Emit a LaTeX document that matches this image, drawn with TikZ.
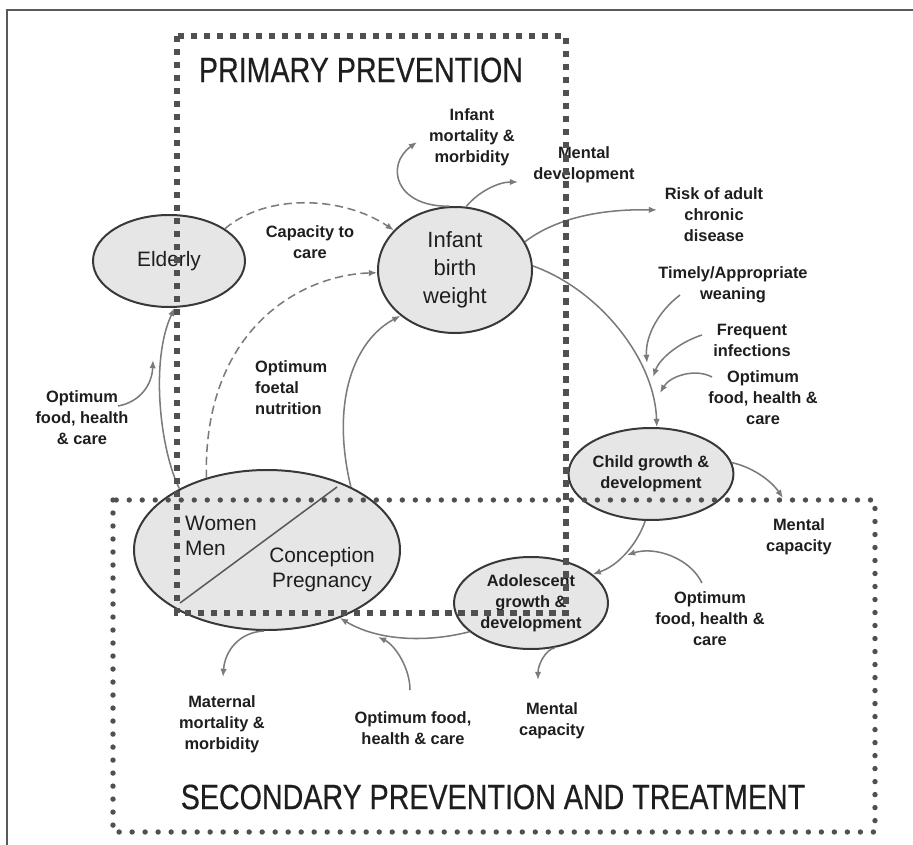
\documentclass[tikz,border=0pt]{standalone}
\usepackage{fontspec}
\setmainfont{Liberation Sans}
\newfontfamily\headfont[FakeStretch=0.815,FakeBold=0.4]{Liberation Sans}
\usetikzlibrary{arrows.meta,shapes.geometric}
\usetikzlibrary{calc}
\definecolor{boxgray}{HTML}{505050}
\definecolor{arrowgray}{HTML}{7A7A7A}
\definecolor{ovalfill}{HTML}{E6E6E6}
\definecolor{inkgray}{HTML}{1E1E1E}
\newcommand{\pxu}{0.03cm}
\tikzstyle{oval}=[ellipse,fill=ovalfill,draw=black!78,line width=1.7pt,inner sep=0pt,text=inkgray,align=center]
\tikzstyle{ovaltext}=[font=\fontsize{17.8}{21.3}\selectfont,text=inkgray,align=center,inner sep=0pt]
\tikzstyle{remark}=[font=\bfseries\fontsize{14}{18}\selectfont,text=inkgray,align=center,inner sep=0pt]
\tikzstyle{heading}=[font=\headfont\fontsize{30}{36}\selectfont,text=inkgray,inner sep=0pt]
\tikzstyle{link}=[draw=arrowgray,line width=1.3pt,-{Latex[length=7pt,width=5.5pt]}]
\tikzstyle{dashlink}=[link,dash pattern=on 7pt off 4pt]
\tikzstyle{primbox}=[draw=boxgray,line width=5.3pt,dash pattern=on 5.3pt off 5.8pt]
\tikzstyle{secbox}=[draw=boxgray,line width=4.6pt,line cap=round,dash pattern=on 0pt off 11.1pt]

\begin{document}
\begin{tikzpicture}[x=\pxu,y=-\pxu]
    % page size and frame
    \useasboundingbox (0,0) rectangle (913,845);
    \draw[draw=black!65,line width=2pt] (7,845) -- (7,10) -- (913,10);
    % First we draw the ovals
    \node[oval,font=\fontsize{17.8}{21.3}\selectfont,minimum width=152*\pxu,minimum height=92*\pxu] (elderly) at (169,261) {Elderly};
    \node[oval,font=\fontsize{18.8}{24}\selectfont,minimum width=154*\pxu,minimum height=126*\pxu] (infant) at (455,270) {Infant\\birth\\weight};
    \node[oval,minimum width=266*\pxu,minimum height=160*\pxu] (women) at (267,550) {};
    \node[oval,remark,minimum width=152*\pxu,minimum height=92*\pxu] (child) at (651,474) {Child growth \&\\development};
    \node[oval,remark,minimum width=154*\pxu,minimum height=92*\pxu] (adolescent) at (531,603) {Adolescent\\growth \&\\development};
    \draw[draw=black!65,line width=1.3pt] ($(women.center)+(-87,53)$) -- ($(women.center)+(70,-63)$);
    \node[ovaltext,align=left,anchor=west] (womenmen) at (185,536) {Women\\Men};
    \node[ovaltext] (conception) at (322,570) {Conception\\Pregnancy};
    % then the labels
    \foreach \pos/\name/\txt in {{(310,242)/capacity/{Capacity to\\care}},
                                 {(82,418)/optleft/{Optimum\\food, health\\\& care}},
                                 {(472,137)/infmort/{Infant\\mortality \&\\morbidity}},
                                 {(584,165)/mentdev/{Mental\\development}},
                                 {(714,215)/risk/{Risk of adult\\chronic\\disease}},
                                 {(752,340)/frequent/{Frequent\\infections}},
                                 {(763,398)/optright/{Optimum\\food, health \&\\care}},
                                 {(799,537)/mentcap1/{Mental\\capacity}},
                                 {(710,619)/optlow/{Optimum\\food, health \&\\care}},
                                 {(552,721)/mentcap2/{Mental\\capacity}},
                                 {(222,724)/maternal/{Maternal\\mortality \&\\morbidity}},
                                 {(413,728)/optbottom/{Optimum food,\\health \& care}}}
        \node[remark] (\name) at \pos {\txt};
    \node[remark] (timely) at (733,285) {Timely/Appropriate\\weaning};
    \node[remark,align=left,anchor=west] (foetal) at (255,388) {Optimum\\foetal\\nutrition};
    \node[heading] (primhead) at (361,70) {PRIMARY PREVENTION};
    \node[heading] (sechead) at (493,797) {SECONDARY PREVENTION AND TREATMENT};
    % free ends of the arrows
    \coordinate (optleft-out) at (118,406);
    \coordinate (elderly-in) at (153,360);
    \coordinate (infmort-in) at (417,142);
    \coordinate (mentdev-in) at (518,182);
    \coordinate (risk-in) at (657,210);
    \coordinate (timely-out) at (680,295);
    \coordinate (timely-in) at (647,363);
    \coordinate (frequent-out) at (702,335);
    \coordinate (frequent-in) at (653,377);
    \coordinate (optright-out) at (712,377);
    \coordinate (optright-in) at (660,393);
    \coordinate (mentcap1-in) at (783,498);
    \coordinate (optlow-out) at (702,583);
    \coordinate (optlow-in) at (627,555);
    \coordinate (mentcap2-in) at (538,680);
    \coordinate (maternal-in) at (223,677);
    \coordinate (optbottom-out) at (410,690);
    \coordinate (optbottom-in) at (378,637);
    % Connect the ovals
    \draw[dashlink] (elderly.30) .. controls (267,193) and (343,196) .. (infant.147);
    \draw[dashlink] (women.130) .. controls (203,330) and (300,275) .. (infant.182);
    \draw[link] (women.37) .. controls (330,400) and (355,340) .. (infant.220);
    \draw[link] (women.145) .. controls (160,450) and (150,360) .. (elderly.-83);
    \draw[link] (optleft-out) .. controls (140,402) and (152,385) .. (elderly-in);
    \draw[link] (infant.95) .. controls (395,207) and (385,165) .. (infmort-in);
    \draw[link] (infant.80) .. controls (478,192) and (498,182) .. (mentdev-in);
    \draw[link] (infant.22) .. controls (560,215) and (610,209) .. (risk-in);
    \draw[link] (infant.3) .. controls (600,290) and (655,360) .. (child.83);
    \draw[link] (timely-out) .. controls (660,310) and (645,335) .. (timely-in);
    \draw[link] (frequent-out) .. controls (680,342) and (660,358) .. (frequent-in);
    \draw[link] (optright-out) .. controls (695,368) and (670,376) .. (optright-in);
    \draw[link] (child.8) .. controls (755,468) and (772,482) .. (mentcap1-in);
    \draw[link] (child.-97) .. controls (638,542) and (620,565) .. (adolescent.25);
    \draw[link] (optlow-out) .. controls (690,558) and (655,546) .. (optlow-in);
    \draw[link] (adolescent.-62) .. controls (545,650) and (538,665) .. (mentcap2-in);
    \draw[link] (adolescent.205) .. controls (430,642) and (380,642) .. (women.-43);
    \draw[link] (women.-92) .. controls (240,632) and (225,650) .. (maternal-in);
    \draw[link] (optbottom-out) .. controls (410,668) and (395,645) .. (optbottom-in);
    % the two prevention boxes go on top
    \draw[primbox] (177,36) rectangle (566,613);
    \draw[secbox] (113,500) rectangle (875,832);
\end{tikzpicture}
\end{document}
